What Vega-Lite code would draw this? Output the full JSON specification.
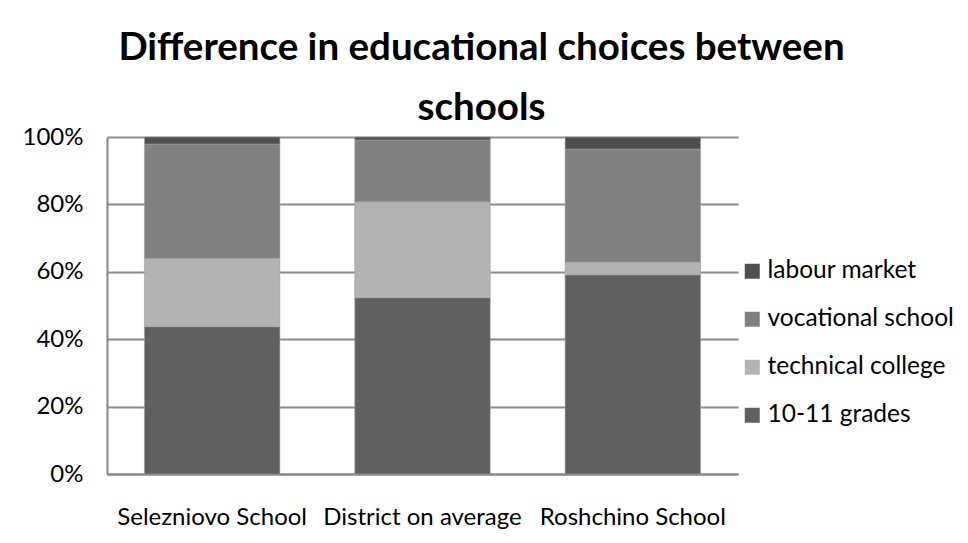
{
  "$schema": "https://vega.github.io/schema/vega-lite/v6.json",
  "width": 631,
  "height": 337,
  "autosize": {"type": "none"},
  "padding": {"left": 107, "top": 137, "right": 230, "bottom": 69},
  "background": "white",
  "title": {
    "text": ["Difference in educational choices between", "schools"],
    "font": "Lato",
    "fontSize": 38.5,
    "fontWeight": "bold",
    "color": "#000000",
    "anchor": "middle",
    "frame": "group",
    "dx": 59,
    "offset": -3,
    "lineHeight": 60
  },
  "data": {
    "values": [
      {"school": "Selezniovo School", "choice": "10-11 grades", "share": 43.7},
      {"school": "Selezniovo School", "choice": "technical college", "share": 20.3},
      {"school": "Selezniovo School", "choice": "vocational school", "share": 33.9},
      {"school": "Selezniovo School", "choice": "labour market", "share": 2.1},
      {"school": "District on average", "choice": "10-11 grades", "share": 52.3},
      {"school": "District on average", "choice": "technical college", "share": 28.5},
      {"school": "District on average", "choice": "vocational school", "share": 18.3},
      {"school": "District on average", "choice": "labour market", "share": 0.9},
      {"school": "Roshchino School", "choice": "10-11 grades", "share": 59.1},
      {"school": "Roshchino School", "choice": "technical college", "share": 3.8},
      {"school": "Roshchino School", "choice": "vocational school", "share": 33.5},
      {"school": "Roshchino School", "choice": "labour market", "share": 3.6}
    ]
  },
  "transform": [
    {"calculate": "indexof(['10-11 grades','technical college','vocational school','labour market'], datum.choice)", "as": "ord"}
  ],
  "mark": {"type": "bar", "stroke": "#9e9e9e", "strokeWidth": 0.6},
  "encoding": {
    "x": {
      "field": "school",
      "type": "nominal",
      "sort": ["Selezniovo School", "District on average", "Roshchino School"],
      "scale": {"paddingInner": 0.356, "paddingOuter": 0.178},
      "axis": {
        "title": null,
        "labelAngle": 0,
        "labelFont": "Lato",
        "labelFontSize": 24,
        "labelColor": "#000000",
        "labelPadding": 31,
        "labelOverlap": false,
        "labelLimit": 400,
        "ticks": false,
        "domainColor": "#868686",
        "domainWidth": 2
      }
    },
    "y": {
      "field": "share",
      "type": "quantitative",
      "stack": "normalize",
      "scale": {"domain": [0, 1]},
      "axis": {
        "title": null,
        "format": "%",
        "values": [0, 0.2, 0.4, 0.6, 0.8, 1],
        "labelFont": "Lato",
        "labelFontSize": 24,
        "labelColor": "#000000",
        "labelPadding": 24,
        "ticks": false,
        "domainColor": "#868686",
        "domainWidth": 2,
        "gridColor": "#8a8a8a",
        "gridWidth": 2
      }
    },
    "color": {
      "field": "choice",
      "type": "nominal",
      "scale": {
        "domain": ["labour market", "vocational school", "technical college", "10-11 grades"],
        "range": ["#4f4f4f", "#808080", "#b3b3b3", "#606060"]
      },
      "legend": {
        "title": null,
        "orient": "none",
        "legendX": 633,
        "legendY": 122,
        "symbolType": "square",
        "symbolSize": 225,
        "symbolStrokeWidth": 0,
        "labelFont": "Lato",
        "labelFontSize": 24.5,
        "labelColor": "#000000",
        "labelOffset": 3,
        "labelLimit": 400,
        "rowPadding": 23
      }
    },
    "order": {"field": "ord", "type": "quantitative"}
  },
  "config": {
    "view": {"stroke": null}
  }
}
